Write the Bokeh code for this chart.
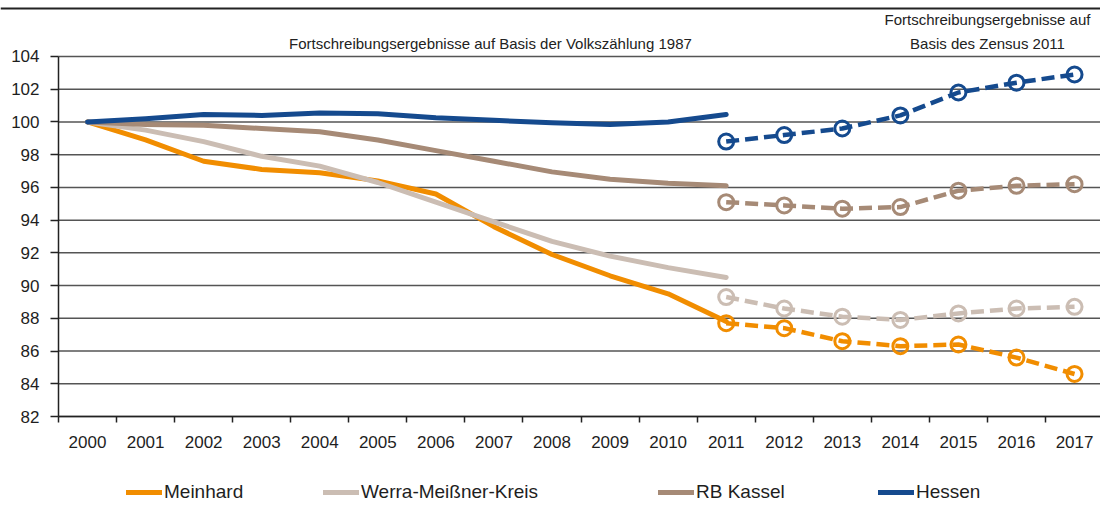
from bokeh.plotting import figure
from bokeh.models import Range1d, FixedTicker, Legend, LegendItem, Label, Span
from bokeh.embed import file_html
from bokeh.resources import INLINE

# ---------------- data ----------------
years = [2000, 2001, 2002, 2003, 2004, 2005, 2006, 2007, 2008,
         2009, 2010, 2011, 2012, 2013, 2014, 2015, 2016, 2017]
year_labels = [str(y) for y in years]

years_old = [2000, 2001, 2002, 2003, 2004, 2005, 2006, 2007, 2008, 2009, 2010, 2011]
years_new = [2011, 2012, 2013, 2014, 2015, 2016, 2017]

meinhard_old = [100, 98.9, 97.6, 97.1, 96.9, 96.4, 95.6, 93.6, 91.9, 90.6, 89.5, 87.8]
werra_old = [100, 99.5, 98.8, 97.9, 97.3, 96.3, 95.1, 93.9, 92.7, 91.8, 91.1, 90.5]
kassel_old = [100, 99.85, 99.8, 99.6, 99.4, 98.9, 98.25, 97.6, 96.95, 96.5, 96.25, 96.1]
hessen_old = [100, 100.2, 100.45, 100.4, 100.55, 100.5, 100.25, 100.1, 99.95, 99.85, 100.0, 100.45]

meinhard_new = [87.7, 87.4, 86.6, 86.3, 86.4, 85.6, 84.6]
werra_new = [89.3, 88.6, 88.1, 87.9, 88.3, 88.6, 88.7]
kassel_new = [95.1, 94.9, 94.7, 94.8, 95.8, 96.1, 96.2]
hessen_new = [98.8, 99.2, 99.6, 100.4, 101.8, 102.4, 102.9]

series_names = ["Meinhard", "Werra-Meißner-Kreis", "RB Kassel", "Hessen"]
y_ticks = [82, 84, 86, 88, 90, 92, 94, 96, 98, 100, 102, 104]

note_left = "Fortschreibungsergebnisse auf Basis der Volkszählung 1987"
note_right_1 = "Fortschreibungsergebnisse auf"
note_right_2 = "Basis des Zensus 2011"

# ---------------- styles ----------------
FONT = "Liberation Sans"
colors = ["#F18D00", "#CBBDB3", "#A68A76", "#154A8E"]

x_lo, x_hi = years[0] - 0.5, years[-1] + 0.5
y_lo, y_hi = y_ticks[0], y_ticks[-1]

# the frame covers the whole canvas; axes are pinned to the data box
p = figure(width=1100, height=503, output_backend="svg", toolbar_location=None,
           x_range=Range1d(1998.501, 2017.447), y_range=Range1d(76.684, 107.422))
p.min_border = 0
p.min_border_left = 0
p.min_border_right = 0
p.min_border_top = 0
p.min_border_bottom = 0
p.outline_line_color = None
p.background_fill_color = "white"
p.xgrid.visible = False
p.ygrid.visible = False

# rule at the top of the page
p.add_layout(Span(location=106.93, dimension="width", line_color="#222222",
                  line_width=2))

# horizontal gridlines over the data box
p.segment(x0=[x_lo] * len(y_ticks), y0=y_ticks, x1=[x_hi] * len(y_ticks), y1=y_ticks,
          line_color="#555555", line_width=1.5)

# x axis: labels at centres, tick marks at category boundaries
bounds = [y - 0.5 for y in years] + [years[-1] + 0.5]
p.xaxis.fixed_location = y_lo
p.xaxis.bounds = (x_lo, x_hi)
p.xaxis.ticker = FixedTicker(ticks=years, minor_ticks=bounds)
p.xaxis.major_label_overrides = {y: lab for y, lab in zip(years, year_labels)}
p.xaxis.major_tick_line_color = None
p.xaxis.major_tick_out = 0
p.xaxis.major_tick_in = 0
p.xaxis.minor_tick_out = 6
p.xaxis.minor_tick_in = 0
p.xaxis.minor_tick_line_color = "#222222"
p.xaxis.minor_tick_line_width = 1.5
p.xaxis.major_label_standoff = 13

p.yaxis.fixed_location = x_lo
p.yaxis.bounds = (y_lo, y_hi)
p.yaxis.ticker = FixedTicker(ticks=y_ticks)
p.yaxis.major_tick_out = 8
p.yaxis.major_tick_in = 0
p.yaxis.minor_tick_line_color = None
p.yaxis.major_tick_line_color = "#222222"
p.yaxis.major_tick_line_width = 1.5
p.yaxis.major_label_standoff = 11

for ax in (p.xaxis, p.yaxis):
    ax.axis_line_color = "#222222"
    ax.axis_line_width = 1.5
    ax.major_label_text_font = FONT
    ax.major_label_text_font_size = "17px"
    ax.major_label_text_color = "#1e1e1e"

old_data = [meinhard_old, werra_old, kassel_old, hessen_old]
new_data = [meinhard_new, werra_new, kassel_new, hessen_new]

solid_renderers = []
for vals, c in zip(old_data, colors):
    r = p.line(years_old, vals, line_color=c, line_width=5, line_cap="round",
               line_join="round")
    solid_renderers.append(r)

for vals, c in zip(new_data, colors):
    p.line(years_new, vals, line_color=c, line_width=4.5, line_dash="13 6")
    p.scatter(years_new, vals, marker="circle", size=15, fill_color=None,
              line_color=c, line_width=3)

# legends: one per entry, positioned like the original
leg_x = [126, 323, 658, 878]
for name, r, lx in zip(series_names, solid_renderers, leg_x):
    leg = Legend(items=[LegendItem(label=name, renderers=[r])],
                 location=(lx, 0), orientation="horizontal",
                 background_fill_alpha=0, border_line_color=None,
                 padding=0, margin=0, glyph_width=36, glyph_height=20,
                 label_height=20, label_standoff=2,
                 label_text_font=FONT, label_text_font_size="19px",
                 label_text_color="#1e1e1e")
    p.add_layout(leg, "center")

# notes above the data box
for txt, xx, yy in [(note_left, 2006.94, 104.79),
                    (note_right_1, 2015.5, 106.25),
                    (note_right_2, 2015.5, 104.79)]:
    p.add_layout(Label(x=xx, y=yy, text=txt, text_align="center",
                       text_baseline="middle", text_font=FONT,
                       text_font_size="15px", text_color="#222222"))

open("out.html", "w").write(file_html(p, INLINE))
